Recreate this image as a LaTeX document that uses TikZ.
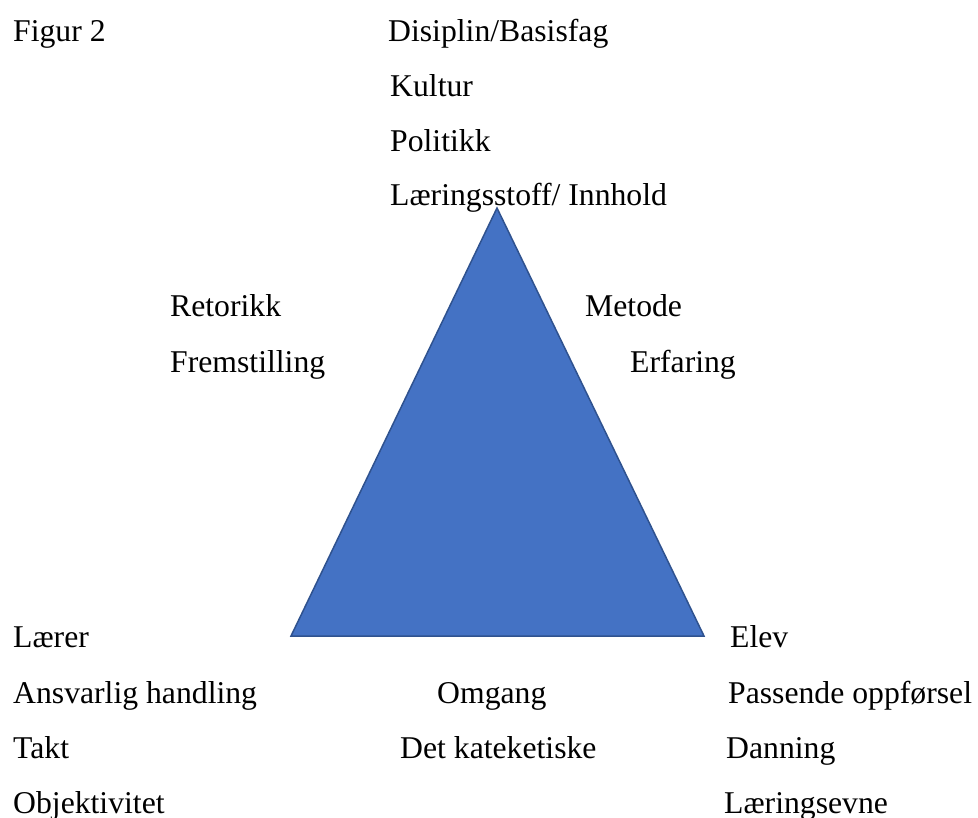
\documentclass[tikz,border=0pt]{standalone}
\usepackage{fontspec}
\setmainfont{Liberation Serif}
\definecolor{trifill}{HTML}{4472C4}
\definecolor{tridraw}{HTML}{2F528F}
\begin{document}
\begin{tikzpicture}[x=1pt,y=-1pt,
  lbl/.style={anchor=base west,inner sep=0pt,font=\fontsize{31.7}{38}\selectfont}]
\useasboundingbox (0,0) rectangle (978,818);
\coordinate (apex) at (497,208);
\coordinate (bl) at (291,636);
\coordinate (br) at (704,636);
\fill[trifill,draw=tridraw,line width=1.5pt,line join=miter] (apex) -- (br) -- (bl) -- cycle;
\node[lbl] (fig) at (13,42) {Figur 2};
\node[lbl] (t1) at (388,42) {Disiplin/Basisfag};
\node[lbl] (t2) at (390,97) {Kultur};
\node[lbl] (t3) at (390,152) {Politikk};
\node[lbl] (t4) at (390,206) {Læringsstoff/ Innhold};
\node[lbl] (l1) at (170,317) {Retorikk};
\node[lbl] (l2) at (170,373) {Fremstilling};
\node[lbl] (r1) at (585,317) {Metode};
\node[lbl] (r2) at (630,373) {Erfaring};
\node[lbl] (a1) at (13,647) {Lærer};
\node[lbl] (a2) at (13,703) {Ansvarlig handling};
\node[lbl] (a3) at (13,758) {Takt};
\node[lbl] (a4) at (13,813) {Objektivitet};
\node[lbl] (m1) at (437,703) {Omgang};
\node[lbl] (m2) at (400,758) {Det kateketiske};
\node[lbl] (e1) at (730,647) {Elev};
\node[lbl] (e2) at (728,703) {Passende oppførsel};
\node[lbl] (e3) at (726,758) {Danning};
\node[lbl] (e4) at (724,813) {Læringsevne};
\end{tikzpicture}
\end{document}
